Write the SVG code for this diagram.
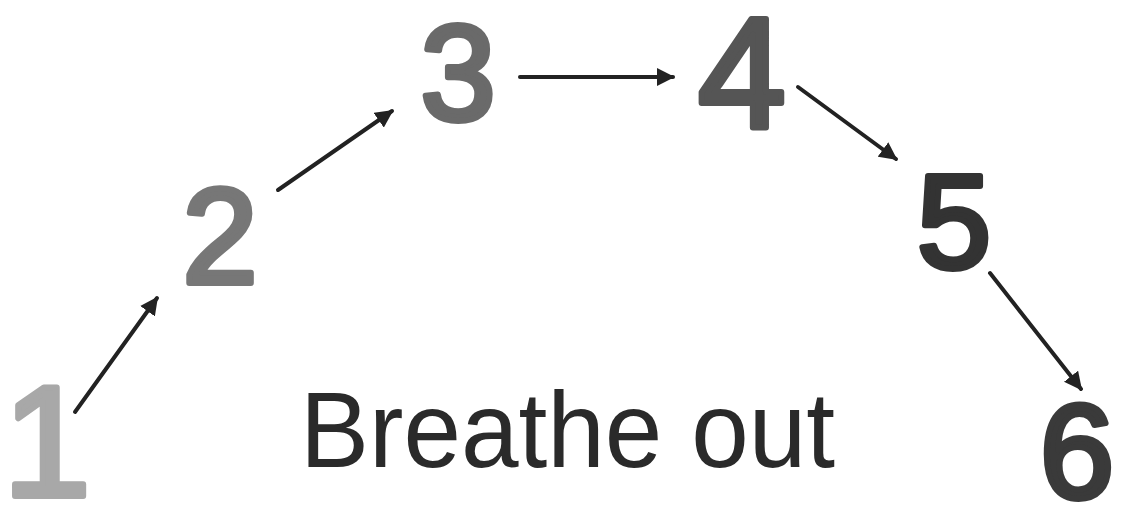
<svg xmlns="http://www.w3.org/2000/svg" width="1130" height="506" viewBox="0 0 1130 506">
<style>
.num{font-family:"Liberation Sans",Arial,sans-serif;font-weight:normal;text-anchor:middle;stroke-linejoin:round;stroke-linecap:round;stroke-width:6}
.lbl{font-family:"Liberation Sans",Arial,sans-serif;fill:#2a2a2a}
.arr{stroke:#222;stroke-width:4;stroke-linecap:round;fill:none;marker-end:url(#ah)}
</style>
<defs>
<marker id="ah" viewBox="0 0 10 10" refX="9" refY="5" markerWidth="4.5" markerHeight="4.5" orient="auto" markerUnits="strokeWidth">
<path d="M0,0 L10,5 L0,10 z" fill="#222"/>
</marker>
</defs>
<rect width="1130" height="506" fill="#fff"/>
<g id="n1"><text class="num" x="47" y="496" font-size="158" fill="#a8a8a8" stroke="#a8a8a8">1</text></g>
<g id="n2"><text class="num" x="220" y="283" font-size="135" fill="#777" stroke="#777">2</text></g>
<g id="n3"><text class="num" x="458" y="120" font-size="135" fill="#6a6a6a" stroke="#6a6a6a">3</text></g>
<g id="n4"><text class="num" x="742" y="128" font-size="158" fill="#555" stroke="#555">4</text></g>
<g id="n5"><text class="num" x="954" y="268" font-size="133" fill="#333" stroke="#333">5</text></g>
<g id="n6"><text class="num" x="1077" y="498" font-size="133" fill="#3a3a3a" stroke="#3a3a3a">6</text></g>
<g id="label"><text class="lbl" x="300" y="467" font-size="108" textLength="535" lengthAdjust="spacingAndGlyphs">Breathe out</text></g>
<g id="connectors">
<line class="arr" x1="75" y1="412" x2="157" y2="298"/>
<line class="arr" x1="278" y1="190" x2="392" y2="111"/>
<line class="arr" x1="520" y1="77" x2="673" y2="77"/>
<line class="arr" x1="798" y1="87" x2="896" y2="159"/>
<line class="arr" x1="990" y1="273" x2="1081" y2="389"/>
</g>
</svg>
